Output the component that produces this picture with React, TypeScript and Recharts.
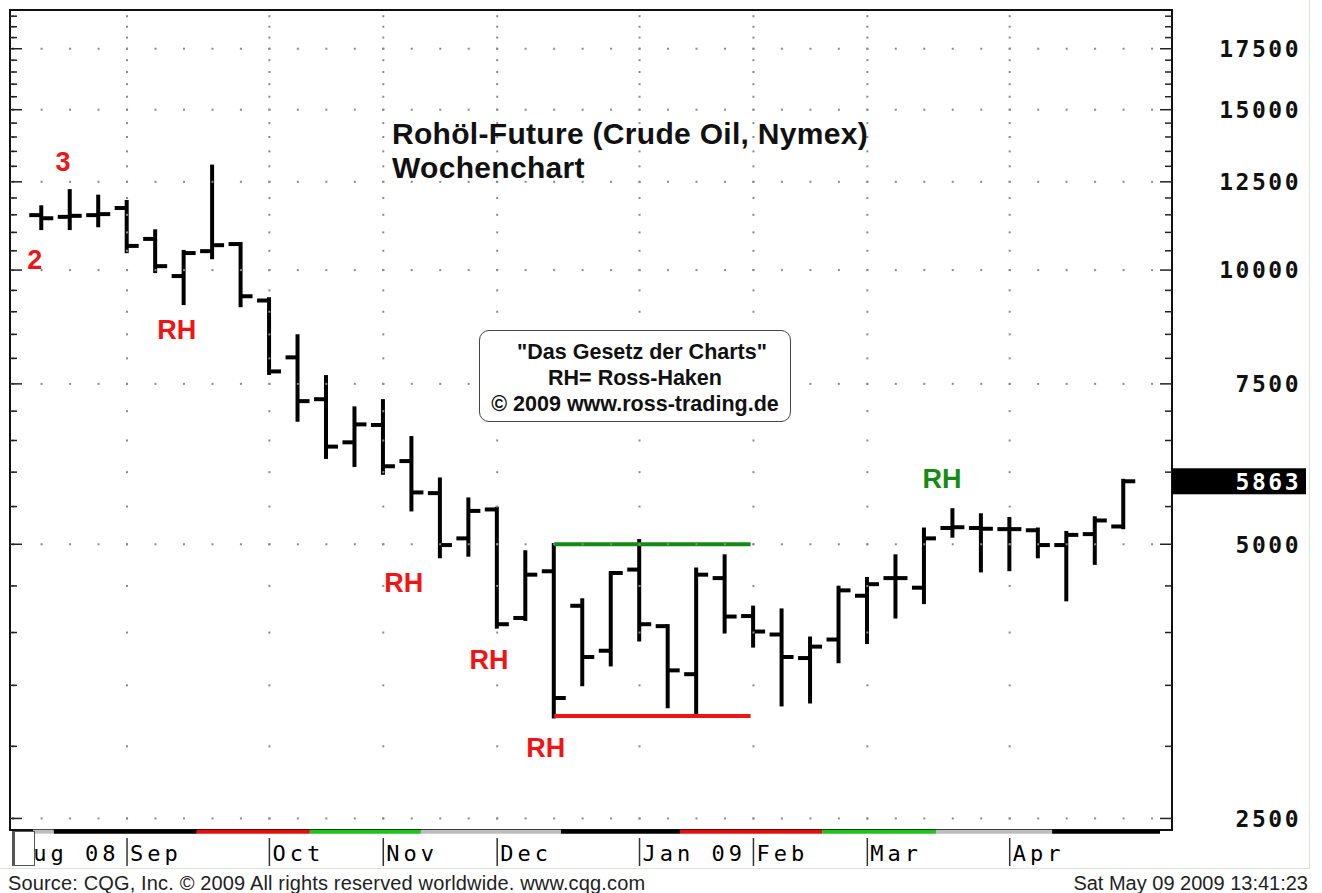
import React from "react";
import {
  Bar,
  ComposedChart,
  ReferenceArea,
  ReferenceLine,
  Scatter,
  XAxis,
  YAxis,
} from "recharts";

// weekly bars, index 0 = week of 11 Aug 2008, last = week of 4 May 2009
const weeks = [
  0, 1, 2, 3, 4, 5, 6, 7, 8, 9, 10, 11, 12, 13, 14, 15, 16, 17, 18, 19,
  20, 21, 22, 23, 24, 25, 26, 27, 28, 29, 30, 31, 32, 33, 34, 35, 36, 37, 38,
];
const opens = [
  11490, 11440, 11490, 11700, 10820, 9850, 10490, 10680, 9260, 8020,
  7215, 6470, 6760, 6170, 5690, 5075, 5460, 4150, 4670, 4280,
  3820, 4690, 4065, 3600, 4590, 4170, 3980, 3750, 3930, 4390,
  4590, 4480, 5210, 5210, 5195, 5180, 4990, 5130, 5230,
];
const highs = [
  11720, 12210, 12040, 11880, 11030, 10470, 12990, 10680, 9290, 8460,
  7630, 7050, 7180, 6540, 5890, 5600, 5470, 4900, 4990, 4340,
  4650, 5040, 4065, 4690, 4850, 4260, 4230, 3940, 4480, 4580,
  4850, 5190, 5450, 5380, 5330, 5190, 5145, 5340, 5870,
];
const lows = [
  11120, 11120, 11200, 10490, 9975, 9200, 10330, 9150, 7710, 6850,
  6235, 6110, 5990, 5460, 4850, 4870, 4060, 4140, 3235, 3510,
  3690, 3930, 3320, 3260, 4010, 3870, 3335, 3360, 3720, 3905,
  4165, 4320, 5110, 4680, 4695, 4850, 4350, 4770, 5220,
];
const closes = [
  11400, 11470, 11520, 10630, 10100, 10440, 10650, 9360, 7740, 7180,
  6400, 6770, 6090, 5700, 4990, 5440, 4085, 4630, 3390, 3760,
  4650, 4085, 3635, 4630, 4165, 4010, 3760, 3860, 4450, 4520,
  4590, 5075, 5220, 5200, 5195, 4990, 5120, 5310, 5863,
];

const LAST_PRICE = 5863;
const majorTicks = [2500, 5000, 7500, 10000, 12500, 15000, 17500];
const minorTicks: number[] = [];
for (let v = 2500; v <= 19000; v += 500) minorTicks.push(v);

const months = [
  { i: -1, label: "Aug 08" },
  { i: 3, label: "Sep" },
  { i: 8, label: "Oct" },
  { i: 12, label: "Nov" },
  { i: 16, label: "Dec" },
  { i: 21, label: "Jan 09" },
  { i: 25, label: "Feb" },
  { i: 29, label: "Mar" },
  { i: 34, label: "Apr" },
];

const notes = [
  { i: 0.75, v: 13180, text: "3", color: "#f01414" },
  { i: -0.24, v: 10280, text: "2", color: "#f01414" },
  { i: 4.75, v: 8610, text: "RH", color: "#f01414" },
  { i: 12.72, v: 4540, text: "RH", color: "#f01414" },
  { i: 15.71, v: 3737, text: "RH", color: "#f01414" },
  { i: 17.71, v: 2990, text: "RH", color: "#f01414" },
  { i: 31.62, v: 5913, text: "RH", color: "#168a16" },
];

// Ross hook box: top and bottom of the range
const boxHigh = 5000;
const boxLow = 3240;
const boxFrom = 18;
const boxTo = 24.9;

// colour strip under the time axis
const strip = [
  { from: -0.3, to: 0.43, color: "#bdbdbd" },
  { from: 0.43, to: 5.45, color: "#000" },
  { from: 5.45, to: 9.42, color: "#e41010" },
  { from: 9.42, to: 13.32, color: "#1cc41c" },
  { from: 13.32, to: 18.24, color: "#bdbdbd" },
  { from: 18.24, to: 22.42, color: "#000" },
  { from: 22.42, to: 27.41, color: "#e41010" },
  { from: 27.41, to: 31.41, color: "#1cc41c" },
  { from: 31.41, to: 35.49, color: "#bdbdbd" },
  { from: 35.49, to: 39.28, color: "#000" },
];

const X_MIN = -1.11;
const X_MAX = 39.7;
const Y_MIN = 2428;
const Y_MAX = 19300;
const STRIP_V = 2418;

const data = weeks.map((i, k) => ({
  i,
  open: opens[k],
  high: highs[k],
  low: lows[k],
  close: closes[k],
  range: [lows[k], highs[k]],
}));

const gridDots: { i: number; v: number }[] = [];
for (let w = -1; w <= 39; w++) majorTicks.forEach((v) => gridDots.push({ i: w, v }));
months.forEach((m) => minorTicks.forEach((v) => gridDots.push({ i: m.i, v })));

const LABEL_FONT = "'DejaVu Sans Mono', monospace";
const SANS = "'Liberation Sans', Arial, sans-serif";

function OhlcBar(props: any) {
  const { x, y, width, height, payload } = props;
  if (x == null || y == null || !payload) return null;
  const cx = x + width / 2;
  const top = Math.min(y, y + height);
  const bot = Math.max(y, y + height);
  const lh = Math.log(payload.high);
  const ll = Math.log(payload.low);
  const py = (v: number) => (lh === ll ? top : top + ((lh - Math.log(v)) / (lh - ll)) * (bot - top));
  const oy = py(payload.open);
  const cy = py(payload.close);
  return (
    <g stroke="#000" strokeWidth={4}>
      <line x1={cx} x2={cx} y1={top - 2} y2={bot + 2} />
      <line x1={cx - 12} x2={cx} y1={oy} y2={oy} />
      <line x1={cx} x2={cx + 12} y1={cy} y2={cy} />
    </g>
  );
}

function PriceTick(props: any) {
  const { x, y, payload } = props;
  const v = payload.value;
  if (v === LAST_PRICE) {
    return (
      <g>
        <rect x={x} y={y - 13} width={134} height={26} fill="#000" />
        <text x={x + 129} y={y} dy="0.36em" textAnchor="end" fill="#fff" fontFamily={LABEL_FONT}
          fontWeight="bold" fontSize={23} letterSpacing={2.5}>
          {v}
        </text>
      </g>
    );
  }
  const major = majorTicks.includes(v);
  return (
    <g>
      <line x1={x - (major ? 12 : 7)} x2={x} y1={y} y2={y} stroke="#222" strokeWidth={1.5} />
      {major && (
        <text x={x + 129} y={y} dy="0.36em" textAnchor="end" fill="#111" fontFamily={LABEL_FONT}
          fontWeight="bold" fontSize={23} letterSpacing={2.5}>
          {v}
        </text>
      )}
    </g>
  );
}

function LeftTick(props: any) {
  const { x, y, payload } = props;
  const major = majorTicks.includes(payload.value);
  return <line x1={x} x2={x + (major ? 12 : 7)} y1={y} y2={y} stroke="#222" strokeWidth={1.5} />;
}

function MonthTick(props: any) {
  const { x, y, payload } = props;
  const m = months.find((mm) => mm.i === payload.value);
  return (
    <g>
      <line x1={x} x2={x} y1={y + 8} y2={y + 36} stroke="#333" strokeWidth={1.5} />
      <text x={x + 3} y={y + 23} dy="0.36em" fill="#000" fontFamily={LABEL_FONT} fontSize={22} letterSpacing={4}>
        {m ? m.label : ""}
      </text>
    </g>
  );
}

function GridDot(props: any) {
  const { cx, cy } = props;
  return <rect x={cx - 1} y={cy - 1} width={2} height={2} fill="#8a8a8a" />;
}

function NoteText(props: any) {
  const { cx, cy, payload } = props;
  return (
    <text x={cx} y={cy} dy="0.36em" textAnchor="middle" fill={payload.color}
      fontFamily={SANS} fontWeight="bold" fontSize={27}>
      {payload.text}
    </text>
  );
}

export default function App() {
  return (
    <div style={{ position: "absolute", left: 0, top: 0, width: 1322, height: 893, background: "#fff", overflow: "hidden" }}>
      <ComposedChart width={1322} height={893} data={data} margin={{ top: 10, right: 10, bottom: 23, left: 9 }}>
        <XAxis type="number" dataKey="i" domain={[X_MIN, X_MAX]} allowDataOverflow ticks={months.map((m) => m.i)}
          interval={0} tick={<MonthTick />} tickLine={false} axisLine={false} tickSize={0} tickMargin={0} height={40} />
        <YAxis yAxisId="left" orientation="left" type="number" scale="log" domain={[Y_MIN, Y_MAX]} allowDataOverflow
          ticks={minorTicks} interval={0} tick={<LeftTick />} tickLine={false} axisLine={false} tickSize={0} tickMargin={0} width={1} />
        <YAxis yAxisId="right" orientation="right" type="number" scale="log" domain={[Y_MIN, Y_MAX]} allowDataOverflow
          ticks={[...minorTicks, LAST_PRICE]} interval={0} tick={<PriceTick />} tickLine={false} axisLine={false}
          tickSize={0} tickMargin={0} width={140} />

        <Scatter yAxisId="right" data={gridDots} dataKey="v" shape={<GridDot />} isAnimationActive={false} />

        <ReferenceArea yAxisId="right" x1={X_MIN} x2={X_MAX} y1={Y_MIN} y2={Y_MAX} fill="none" fillOpacity={0}
          stroke="#111" strokeWidth={2} />

        {strip.map((s, k) => (
          <ReferenceLine key={k} yAxisId="right" ifOverflow="visible" stroke={s.color} strokeWidth={4}
            segment={[{ x: s.from, y: STRIP_V }, { x: s.to, y: STRIP_V }]} />
        ))}

        <Bar yAxisId="right" dataKey="range" barSize={20} shape={<OhlcBar />} isAnimationActive={false} />

        <ReferenceLine yAxisId="right" stroke="#138a13" strokeWidth={4}
          segment={[{ x: boxFrom, y: boxHigh }, { x: boxTo, y: boxHigh }]} />
        <ReferenceLine yAxisId="right" stroke="#f01414" strokeWidth={4}
          segment={[{ x: boxFrom, y: boxLow }, { x: boxTo, y: boxLow }]} />

        <Scatter yAxisId="right" data={notes} dataKey="v" shape={<NoteText />} isAnimationActive={false} />
      </ComposedChart>

      <div style={{ position: "absolute", left: 392, top: 117, fontFamily: SANS, fontWeight: "bold", fontSize: 30,
        letterSpacing: 0.3, lineHeight: "34px", color: "#111", whiteSpace: "nowrap" }}>
        <div>Rohöl-Future (Crude Oil, Nymex)</div>
        <div>Wochenchart</div>
      </div>

      <div style={{ position: "absolute", left: 479, top: 330, width: 312, height: 92, boxSizing: "border-box",
        border: "1.5px solid #444", borderRadius: 10, background: "#fff", fontFamily: SANS, fontWeight: "bold",
        fontSize: 21.5, lineHeight: "26px", color: "#111", textAlign: "center", paddingTop: 8, whiteSpace: "nowrap" }}>
        <div style={{ paddingLeft: 14 }}>"Das Gesetz der Charts"</div>
        <div>RH= Ross-Haken</div>
        <div>© 2009 www.ross-trading.de</div>
      </div>

      <div style={{ position: "absolute", left: 12, top: 831, width: 23, height: 35, boxSizing: "border-box",
        background: "#fff", border: "1.5px solid #555", borderLeft: "3px solid #555" }} />

      <div style={{ position: "absolute", left: 0, top: 868, width: 1310, height: 1, background: "#d6e8d6" }} />
      <div style={{ position: "absolute", left: 1309, top: 0, width: 1, height: 868, background: "#d6e8d6" }} />

      <div style={{ position: "absolute", left: 8, top: 872, fontFamily: SANS, fontSize: 20, letterSpacing: 0.15,
        color: "#222", whiteSpace: "nowrap" }}>
        Source: CQG, Inc. © 2009 All rights reserved worldwide. www.cqg.com
      </div>
      <div style={{ position: "absolute", right: 14, top: 872, fontFamily: SANS, fontSize: 20, color: "#222",
        whiteSpace: "nowrap" }}>
        Sat May 09 2009 13:41:23
      </div>
    </div>
  );
}
